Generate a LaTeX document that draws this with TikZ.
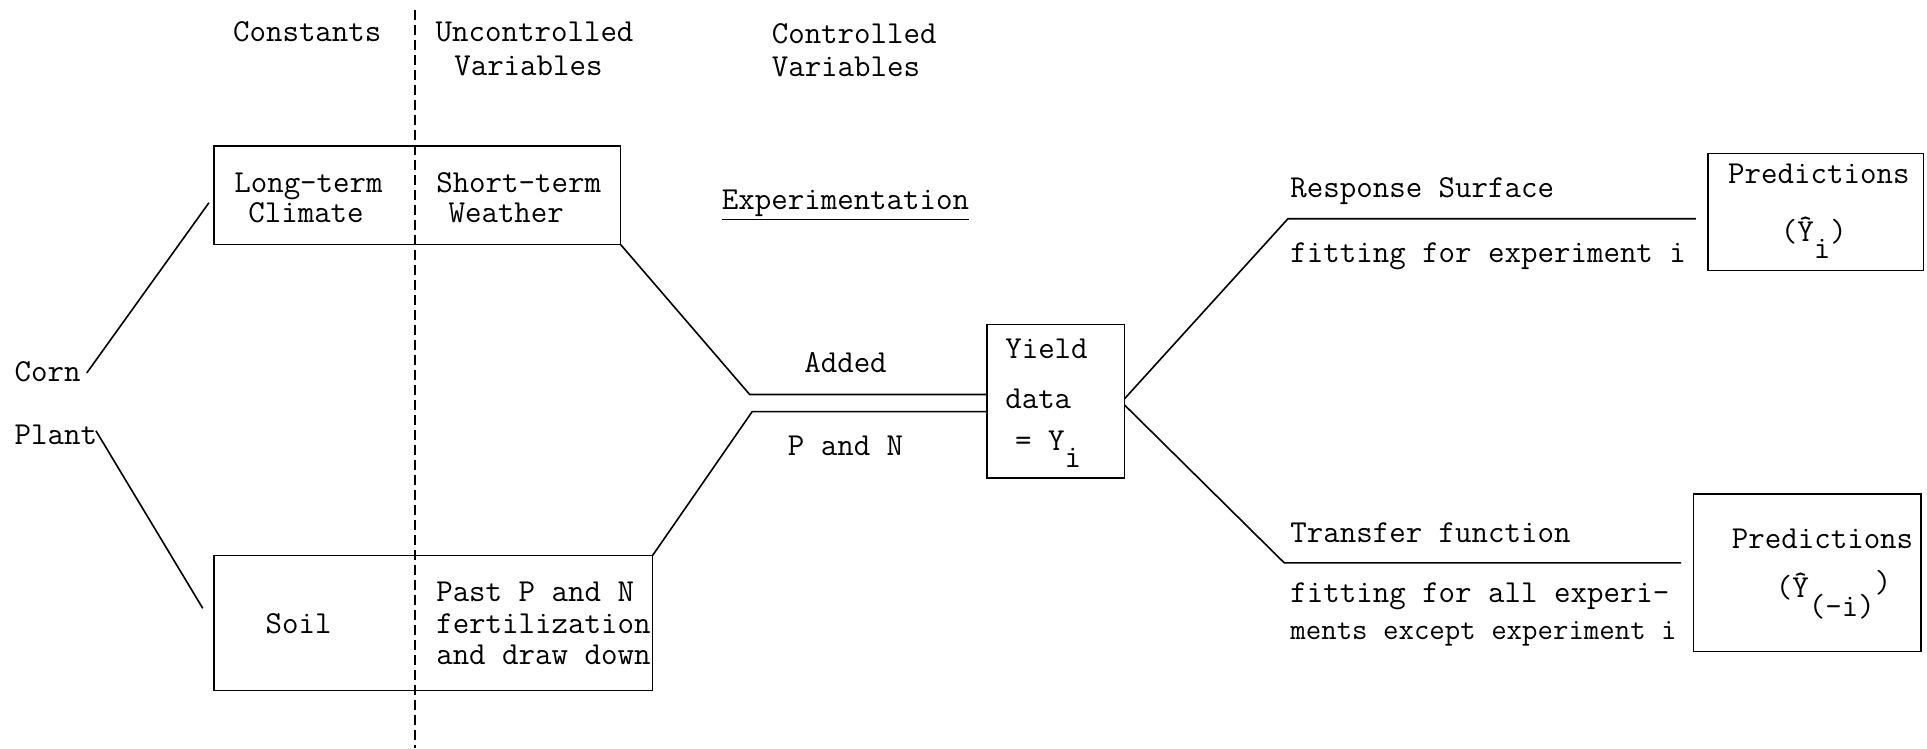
\documentclass[tikz,border=0pt]{standalone}
\usepackage{fontspec}
\usetikzlibrary{fit,calc}
\begin{document}
\begin{tikzpicture}[x=0.6145pt,y=-0.6145pt,
  every node/.style={inner sep=0pt, outer sep=0pt, font=\fontsize{16}{19}\selectfont\ttfamily},
  box/.style={draw, line width=0.8pt, inner sep=0pt},
  link/.style={line width=0.8pt},
  lbl/.style={anchor=mid west, yshift=-3pt},
  clbl/.style={anchor=mid, yshift=-3pt}]
\useasboundingbox (0,0) rectangle (1568,609);

% column headings
\node[clbl] (hconst) at (250,25) {Constants};
\node[clbl] (hunc1) at (435,25) {Uncontrolled};
\node[clbl] (hunc2) at (430,53) {Variables};
\node[lbl] (hcon1) at (628,27) {Controlled};
\node[lbl] (hcon2) at (628,54) {Variables};

% dashed separator
\coordinate (dtop) at (338,8);
\coordinate (dbot) at (338,609);
\draw[line width=1pt, dash pattern=on 5pt off 2.5pt] (dtop) -- (dbot);

% boxes
\node[box, fit={(174,119) (505,199)}] (clim) {};
\node[box, fit={(174,452) (531,562)}] (soil) {};
\node[box, fit={(803,264) (915,389)}] (yield) {};
\node[box, fit={(1390,125) (1565,220)}] (pred1) {};
\node[box, fit={(1378,402) (1563,530)}] (pred2) {};

% box texts
\node[clbl] (lt1) at (251,148) {Long-term};
\node[clbl] (lt2) at (249,173) {Climate};
\node[lbl] (st1) at (355,148) {Short-term};
\node[lbl] (st2) at (365,173) {Weather};
\node[clbl] (soilt) at (243,507) {Soil};
\node[lbl] (pp1) at (355,481) {Past P and N};
\node[lbl] (pp2) at (355,507) {fertilization};
\node[lbl] (pp3) at (355,532) {and draw down};
\node[lbl] (y1) at (818,283) {Yield};
\node[lbl] (y2) at (818,324) {data};
\node[lbl] (y3) at (826,358) {= Y\raisebox{-0.55em}{i}};
\node[clbl] (p1a) at (1480,141) {Predictions};
\node[clbl] (p1b) at (1476,188) {(\^{Y}\raisebox{-0.55em}{i})};
\node[clbl] (p2a) at (1483,438) {Predictions};
\node[clbl] (p2b) at (1492,478) {(\^{Y}\raisebox{-0.6em}{(-i)}\raisebox{0.15em}{)}};

% free labels
\node[lbl] (corn) at (12,302) {Corn};
\node[lbl] (plant) at (12,353) {Plant};
\node[clbl] (exper) at (688,162) {\underline{Experimentation}};
\node[clbl] (added) at (688,295) {Added};
\node[clbl] (pn) at (688,362) {P and N};
\node[lbl] (rs) at (1050,152) {Response Surface};
\node[lbl] (rsf) at (1050,205) {fitting for experiment i};
\node[lbl] (tf) at (1050,433) {Transfer function};
\node[lbl] (tf1) at (1050,482) {fitting for all experi-};
\node[lbl, font=\fontsize{15}{17}\selectfont\ttfamily] (tf2) at (1050,512) {ments except experiment i};

% connectors
\draw[link] ($(corn.east)+(5,1)$) -- ($(clim.west)+(-4,6)$);
\draw[link] ($(plant.east)+(-1,-3)$) -- ($(soil.west)+(-9,-12)$);

\coordinate (k1) at (610,321);
\coordinate (k2) at (612,335);
\draw[link] (clim.south east) -- (k1) -- (k1 -| yield.west);
\draw[link] (soil.north east) -- (k2) -- (k2 -| yield.west);

\coordinate (r1) at (1048,178);
\coordinate (r2) at (1045,458);
\draw[link] ($(yield.east)+(0,-2)$) -- (r1) -- ($(r1 -| pred1.west)+(-10,0)$);
\draw[link] ($(yield.east)+(0,3)$) -- (r2) -- ($(r2 -| pred2.west)+(-10,0)$);
\end{tikzpicture}
\end{document}
